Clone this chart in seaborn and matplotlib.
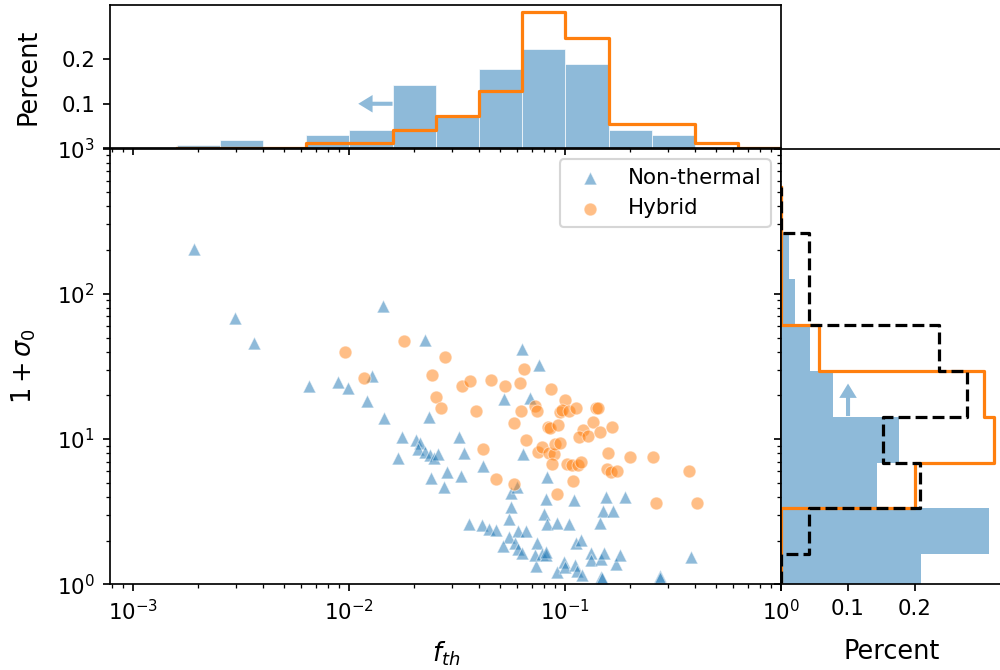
import numpy as np
import pandas as pd
import seaborn as sns
import matplotlib.pyplot as plt

# scatter values: f_th and 1 + sigma_0
nt_fth = [0.00191, 0.00297, 0.00361, 0.00651, 0.00884, 0.00986, 0.0128, 0.0121, 0.01436, 0.01448,
          0.01759, 0.01675, 0.02249, 0.02339, 0.0203, 0.02124, 0.02086, 0.0224, 0.02364, 0.02475,
          0.02582, 0.02388, 0.02744, 0.02825, 0.0632, 0.0758, 0.0522, 0.0689, 0.0323, 0.0339,
          0.0329, 0.0417, 0.0639, 0.0826, 0.0559, 0.0596, 0.0561, 0.0549, 0.0359, 0.0411,
          0.0444, 0.0479, 0.0546, 0.0601, 0.0656, 0.0512, 0.0587, 0.0603, 0.0628, 0.0740,
          0.0728, 0.0724, 0.0784, 0.0810, 0.0814, 0.0812, 0.0799, 0.0821, 0.0912, 0.1044,
          0.110, 0.0912, 0.0982, 0.100, 0.111, 0.113, 0.1195, 0.1123, 0.118, 0.1318,
          0.132, 0.146, 0.1504, 0.155, 0.150, 0.1668, 0.1455, 0.147, 0.148, 0.171,
          0.1796, 0.189, 0.273, 0.273, 0.382]
nt_sig = [205, 67.9, 45.9, 23.3, 24.9, 22.3, 27.0, 18.2, 82.1, 13.95,
          10.4, 7.39, 47.9, 14.2, 9.89, 9.38, 8.53, 8.13, 7.79, 7.39,
          7.88, 5.38, 4.71, 5.89, 42.0, 32.5, 18.9, 19.2, 10.3, 8.0,
          5.56, 6.55, 7.92, 5.50, 4.28, 4.67, 3.43, 2.81, 2.62, 2.56,
          2.42, 2.37, 2.12, 2.32, 2.31, 1.84, 1.92, 1.75, 1.64, 1.93,
          1.33, 1.58, 1.62, 1.58, 1.66, 3.89, 3.07, 2.61, 2.63, 2.61,
          3.81, 1.22, 1.43, 1.32, 1.36, 1.24, 1.16, 1.91, 2.03, 1.64,
          1.47, 1.49, 1.64, 3.96, 3.22, 3.22, 2.63, 1.13, 1.10, 1.39,
          1.59, 4.02, 1.14, 1.10, 1.55]

hy_fth = [0.00958, 0.01173, 0.0179, 0.0242, 0.0252, 0.0266, 0.0277, 0.0331, 0.0363, 0.0453,
          0.0527, 0.0615, 0.0646, 0.0859, 0.0386, 0.0581, 0.0626, 0.0724, 0.0737, 0.0994,
          0.0945, 0.0966, 0.104, 0.1117, 0.1383, 0.1417, 0.0834, 0.0847, 0.0922, 0.0658,
          0.075, 0.078, 0.0841, 0.0887, 0.0893, 0.0945, 0.0871, 0.1018, 0.107, 0.115,
          0.118, 0.1089, 0.0918, 0.1208, 0.116, 0.127, 0.134, 0.145, 0.1644, 0.0416,
          0.0476, 0.0577, 0.1577, 0.1555, 0.162, 0.173, 0.1994, 0.255, 0.263, 0.375,
          0.406]
hy_sig = [40.0, 26.2, 47.6, 27.8, 19.6, 16.4, 36.5, 23.3, 25.2, 25.5,
          23.3, 24.4, 30.5, 22.2, 15.5, 12.9, 15.5, 16.8, 15.6, 18.5,
          15.3, 15.9, 15.7, 16.4, 16.3, 16.3, 12.2, 12.0, 12.5, 9.78,
          8.13, 8.75, 7.96, 7.92, 9.28, 9.38, 6.72, 6.76, 6.65, 6.65,
          6.94, 5.16, 4.20, 11.6, 10.3, 10.5, 13.2, 11.1, 12.1, 8.48,
          5.35, 4.89, 8.0, 6.21, 5.89, 6.02, 7.47, 7.47, 3.62, 6.04,
          3.62]

# f_th histograms: 14 log bins from 10^-2.8 to 10^0
fth_bins = (-2.8, 0.0)
nt_fth_pct = [0.0074, 0.0193, 0, 0.0305, 0.0424, 0.1428, 0.0758, 0.177, 0.2216, 0.188, 0.0424, 0.0305, 0, 0]
hy_fth_pct = [0, 0, 0, 0.0126, 0.0126, 0.041, 0.072, 0.129, 0.305, 0.247, 0.0558, 0.0558, 0.0126, 0]

# 1+sigma_0 histograms: 9 log bins of width 0.3161 starting at 10^-0.11
sig_bins = (-0.11, -0.11 + 9 * 0.3161)
nt_sig_pct = [0.21, 0.311, 0.144, 0.177, 0.077, 0.0435, 0.021, 0.011, 0]
hy_sig_pct = [0, 0, 0.201, 0.3195, 0.3035, 0.057, 0, 0, 0]
th_sig_pct = [0, 0.041, 0.2085, 0.152, 0.2785, 0.236, 0.041, 0.041, 0]

fth_c = 10 ** np.linspace(*fth_bins, len(nt_fth_pct) * 2 + 1)[1::2]
sig_c = 10 ** np.linspace(*sig_bins, len(nt_sig_pct) * 2 + 1)[1::2]

fig = plt.figure(figsize=(10 / 1.54, 6.7 / 1.54), dpi=154)
ax = fig.add_axes([0.110, 0.1279, 0.6713, 0.6504])
ax_top = fig.add_axes([0.110, 0.7784, 0.6713, 0.2142], sharex=ax)
ax_r = fig.add_axes([0.7813, 0.1279, 0.2202, 0.6504], sharey=ax)

ax.set_xscale('log')
ax.set_yscale('log')

sns.scatterplot(x=nt_fth, y=nt_sig, marker='^', color='C0', alpha=0.5, s=36, label='Non-thermal', ax=ax)
sns.scatterplot(x=hy_fth, y=hy_sig, marker='o', color='C1', alpha=0.5, s=36, label='Hybrid', ax=ax)
ax.legend(loc='upper right')

arrow = dict(fc='C0', ec='none', alpha=0.5, width=1.9, headwidth=8.2, headlength=6.7, shrink=0)

# top histogram
sns.histplot(x=fth_c, weights=nt_fth_pct, bins=len(fth_c), binrange=fth_bins, log_scale=True,
             color='C0', alpha=0.5, edgecolor='white', linewidth=0.3, ax=ax_top)
sns.histplot(x=fth_c, weights=hy_fth_pct, bins=len(fth_c), binrange=fth_bins, log_scale=True,
             element='step', fill=False, color='C1', linewidth=1.5, ax=ax_top)
ax_top.annotate('', xy=(0.0110, 0.1), xytext=(0.01585, 0.1), arrowprops=arrow)

# right histogram
sns.histplot(y=sig_c, weights=nt_sig_pct, bins=len(sig_c), binrange=sig_bins, log_scale=True,
             color='C0', alpha=0.5, linewidth=0, ax=ax_r)
sns.histplot(y=sig_c, weights=hy_sig_pct, bins=len(sig_c), binrange=sig_bins, log_scale=True,
             element='step', fill=False, color='C1', linewidth=1.5, ax=ax_r)
sns.histplot(y=sig_c, weights=th_sig_pct, bins=len(sig_c), binrange=sig_bins, log_scale=True,
             element='step', fill=False, color='black', linewidth=1.5, linestyle='--', ax=ax_r)
ax_r.annotate('', xy=(0.1, 24.1), xytext=(0.1, 14.4), arrowprops=arrow)

ax.set_xlim(7.8e-4, 1)
ax.set_ylim(1, 1000)
ax.set_xlabel('$f_{th}$', fontsize='large', labelpad=7)
ax.set_ylabel(r'$1+\sigma_0$', fontsize='large', labelpad=9)

ax_top.set_ylim(0, 0.321)
ax_top.set_yticks([0, 0.1, 0.2], ['', '0.1', '0.2'])
ax_top.set_ylabel('Percent', fontsize='large', labelpad=9)
ax_top.set_xlabel('')
ax_top.tick_params(labelbottom=False)

ax_r.set_xlim(0, 0.33)
ax_r.set_xticks([0, 0.1, 0.2], ['', '0.1', '0.2'])
ax_r.set_xlabel('Percent', fontsize='large', labelpad=9)
ax_r.set_ylabel('')
ax_r.tick_params(labelleft=False)

fig.savefig('out.png', dpi=154)
